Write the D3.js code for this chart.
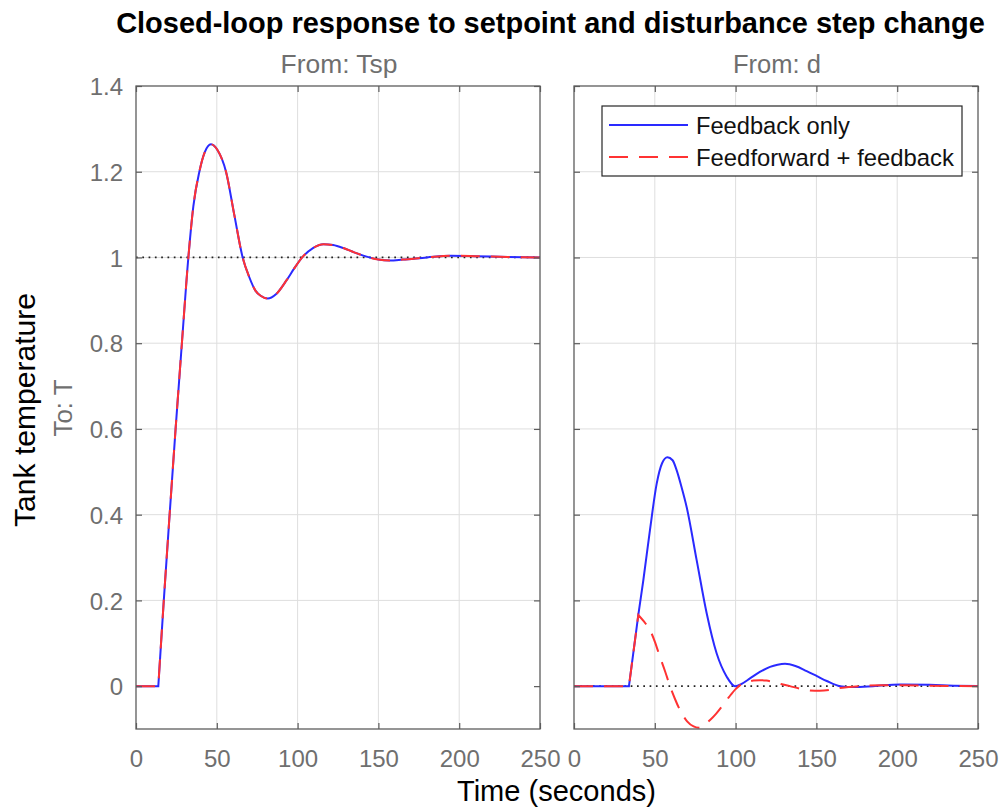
<!DOCTYPE html>
<html>
<head>
<meta charset="utf-8">
<script src="https://cdn.jsdelivr.net/npm/d3@7"></script>
<style>
  html, body { margin: 0; padding: 0; background: #fff; }
  svg { display: block; }
  text { font-family: "Liberation Sans", Arial, Helvetica, sans-serif; }
</style>
</head>
<body>
<svg id="chart" width="1003" height="811"></svg>
<script>
// ---------------- data ----------------
const panelTitles = ["From: Tsp", "From: d"];
const seriesNames = ["Feedback only", "Feedforward + feedback"];

const xTicks = [0, 50, 100, 150, 200, 250];
const xTickLabels = ["0", "50", "100", "150", "200", "250"];
const yTicks = [0, 0.2, 0.4, 0.6, 0.8, 1, 1.2, 1.4];
const yTickLabels = ["0", "0.2", "0.4", "0.6", "0.8", "1", "1.2", "1.4"];

// setpoint step response (identical for both designs)
const spTime = [0, 13.8, 17.2, 20.8, 24.5, 28.4, 32.4, 35.5, 39.2, 42.5, 46.4, 50.5, 55.7, 60.8, 66,
  70, 74, 77.4, 81.5, 86.6, 93.2, 98, 103.5, 109.5, 116, 122, 128.3, 135, 142.7, 150, 157, 165,
  180, 195, 210, 230, 250];
const spValue = [0, 0, 0.2, 0.4, 0.6, 0.8, 1.0, 1.12, 1.2, 1.245, 1.264, 1.25, 1.2, 1.1, 1.0,
  0.955, 0.922, 0.91, 0.904, 0.914, 0.947, 0.975, 1.003, 1.022, 1.031, 1.029, 1.022, 1.012, 1.002,
  0.995, 0.993, 0.995, 1.0, 1.004, 1.003, 1.001, 1.0];
const spKinks = [13.8];
const spFinal = 1;

// disturbance response, feedback only
const fbTime = [0, 34, 39.8, 42.9, 47, 51.2, 54.5, 57.8, 61, 63.5, 66.5, 69.7, 75.9, 82.1, 88.3,
  94.5, 99.6, 104, 108.9, 115, 121.3, 126, 130.6, 137, 144, 150, 156.4, 164.6, 173, 185, 201.7,
  220, 235, 250];
const fbValue = [0, 0, 0.166, 0.247, 0.364, 0.473, 0.52, 0.534, 0.527, 0.504, 0.465, 0.418, 0.294,
  0.17, 0.076, 0.022, 0, 0.006, 0.018, 0.033, 0.045, 0.05, 0.052, 0.047, 0.035, 0.024, 0.012, 0,
  -0.002, 0.0, 0.004, 0.003, 0.001, 0];
const fbKinks = [34];

// disturbance response, feedforward + feedback
const ffTime = [0, 34, 39.8, 43, 47, 50, 53.2, 56.5, 59.4, 62.5, 65.6, 70, 74, 77, 80, 84.2, 88,
  92, 96, 100, 103, 107, 111, 115, 119, 123.3, 128, 133.6, 140, 146, 152, 158, 163, 170, 177, 190,
  205, 220, 250];
const ffValue = [0, 0, 0.166, 0.152, 0.131, 0.104, 0.068, 0.033, 0.0, -0.03, -0.056, -0.082,
  -0.094, -0.097, -0.092, -0.079, -0.064, -0.045, -0.025, -0.007, 0.003, 0.009, 0.013, 0.014,
  0.013, 0.01, 0.005, 0.0, -0.006, -0.01, -0.011, -0.009, -0.005, -0.002, 0.0, 0.002, 0.002,
  0.001, 0];
const ffKinks = [34, 39.8];
const dFinal = 0;

// ---------------- layout ----------------
const svg = d3.select("#chart");
const yTop = 86, yBottom = 729;
const panels = [
  { x0: 136, x1: 540 },
  { x0: 574, x1: 978 }
];
const y = d3.scaleLinear().domain([-0.1, 1.4]).range([yBottom, yTop]);
const blue = "#2a2aff", red = "#ff3232";
const gray = "#6f6f6f", boxColor = "#5c5c5c";
const dash = "19,11";
const lw = 2;

function fit(sel, width) {
  const node = sel.node();
  const fs = parseFloat(sel.attr("font-size"));
  const w = node.getComputedTextLength();
  if (w > 0) sel.attr("font-size", (fs * width / w).toFixed(2));
  return sel;
}

function kinkedPath(ts, vs, kinks, sx) {
  const pts = ts.map((t, i) => [sx(t), y(vs[i])]);
  const pieces = [];
  let cur = [];
  ts.forEach((t, i) => {
    cur.push(pts[i]);
    if (kinks.includes(t)) { pieces.push(cur); cur = [pts[i]]; }
  });
  if (cur.length > 1) pieces.push(cur);
  const line = d3.line().curve(d3.curveMonotoneX);
  let d = "";
  pieces.forEach((p, k) => {
    let s = line(p);
    if (k > 0) s = "L" + s.slice(1);
    d += s;
  });
  return d;
}

const defs = svg.append("defs");

panels.forEach((p, pi) => {
  const x = d3.scaleLinear().domain([0, 250]).range([p.x0, p.x1]);
  const g = svg.append("g");

  defs.append("clipPath").attr("id", "clip" + pi)
    .append("rect").attr("x", p.x0).attr("y", yTop).attr("width", p.x1 - p.x0).attr("height", yBottom - yTop);

  // grid
  g.append("g").selectAll("line").data(xTicks.slice(1, -1)).join("line")
    .attr("x1", d => x(d)).attr("x2", d => x(d)).attr("y1", yTop).attr("y2", yBottom)
    .attr("stroke", "#dedede").attr("stroke-width", 1);
  g.append("g").selectAll("line").data(yTicks.slice(1, -1)).join("line")
    .attr("x1", p.x0).attr("x2", p.x1).attr("y1", d => y(d)).attr("y2", d => y(d))
    .attr("stroke", "#dedede").attr("stroke-width", 1);

  const plot = g.append("g").attr("clip-path", `url(#clip${pi})`);
  // steady-state dotted line
  const fin = pi === 0 ? spFinal : dFinal;
  plot.append("line").attr("x1", p.x0).attr("x2", p.x1).attr("y1", y(fin)).attr("y2", y(fin))
    .attr("stroke", "#222").attr("stroke-width", 1.7).attr("stroke-dasharray", "1.7,4.6");

  if (pi === 0) {
    plot.append("path").attr("d", kinkedPath(spTime, spValue, spKinks, x))
      .attr("fill", "none").attr("stroke", blue).attr("stroke-width", lw);
    plot.append("path").attr("d", kinkedPath(spTime, spValue, spKinks, x))
      .attr("fill", "none").attr("stroke", red).attr("stroke-width", lw).attr("stroke-dasharray", dash);
  } else {
    plot.append("path").attr("d", kinkedPath(fbTime, fbValue, fbKinks, x))
      .attr("fill", "none").attr("stroke", blue).attr("stroke-width", lw);
    plot.append("path").attr("d", kinkedPath(ffTime, ffValue, ffKinks, x))
      .attr("fill", "none").attr("stroke", red).attr("stroke-width", lw).attr("stroke-dasharray", dash);
  }

  // axes with inward ticks
  const tl = 6;
  const axB = d3.axisBottom(x).tickValues(xTicks).tickSize(-tl).tickFormat((d, i) => xTickLabels[i]);
  const axT = d3.axisTop(x).tickValues(xTicks).tickSize(-tl).tickFormat("");
  const axL = d3.axisLeft(y).tickValues(yTicks).tickSize(-tl).tickFormat((d, i) => pi === 0 ? yTickLabels[i] : "");
  const axR = d3.axisRight(y).tickValues(yTicks).tickSize(-tl).tickFormat("");
  const gb = g.append("g").attr("transform", `translate(0,${yBottom})`).call(axB);
  const gt = g.append("g").attr("transform", `translate(0,${yTop})`).call(axT);
  const gl = g.append("g").attr("transform", `translate(${p.x0},0)`).call(axL);
  const gr = g.append("g").attr("transform", `translate(${p.x1},0)`).call(axR);
  [gb, gt, gl, gr].forEach(a => {
    a.select(".domain").remove();
    a.selectAll(".tick line").attr("stroke", boxColor).attr("stroke-width", 1.2);
    a.selectAll(".tick text").attr("fill", gray).attr("font-size", 24)
      .attr("font-family", "'Liberation Sans', Arial, sans-serif");
  });
  gb.selectAll(".tick text").attr("dy", null).attr("y", 767 - yBottom);
  gl.selectAll(".tick text").attr("dy", "0.36em").attr("x", -13);

  // box
  g.append("rect").attr("x", p.x0).attr("y", yTop).attr("width", p.x1 - p.x0).attr("height", yBottom - yTop)
    .attr("fill", "none").attr("stroke", boxColor).attr("stroke-width", 1.3);

  // panel title
  const pt = svg.append("text").attr("x", (p.x0 + p.x1) / 2 + 1).attr("y", 73)
    .attr("text-anchor", "middle").attr("fill", gray).attr("font-size", 25).text(panelTitles[pi]);
  fit(pt, pi === 0 ? 117 : 88);
});

// legend
const lg = svg.append("g");
lg.append("rect").attr("x", 602).attr("y", 106).attr("width", 360).attr("height", 70)
  .attr("fill", "#fff").attr("stroke", "#262626").attr("stroke-width", 1.2);
[[blue, null, 125, 134, 154], [red, dash, 157, 166, 258]].forEach((s, i) => {
  lg.append("line").attr("x1", 609).attr("x2", 688).attr("y1", s[2]).attr("y2", s[2])
    .attr("stroke", s[0]).attr("stroke-width", lw).attr("stroke-dasharray", s[1]);
  const t = lg.append("text").attr("x", 696).attr("y", s[3]).attr("font-size", 24)
    .attr("fill", "#111").text(seriesNames[i]);
  fit(t, s[4]);
});

// titles and axis labels
const title = svg.append("text").attr("x", 550.5).attr("y", 33).attr("text-anchor", "middle")
  .attr("font-weight", "bold").attr("font-size", 24).attr("fill", "#000")
  .text("Closed-loop response to setpoint and disturbance step change");
fit(title, 869);

const xl = svg.append("text").attr("x", 556.5).attr("y", 801).attr("text-anchor", "middle")
  .attr("font-size", 28).attr("fill", "#000").text("Time (seconds)");
fit(xl, 199);

const yl = svg.append("text").attr("transform", "translate(35,410) rotate(-90)")
  .attr("text-anchor", "middle").attr("font-size", 28).attr("fill", "#000").text("Tank temperature");
fit(yl, 234);

const yl2 = svg.append("text").attr("transform", "translate(72,408) rotate(-90)")
  .attr("text-anchor", "middle").attr("font-size", 24).attr("fill", gray).text("To: T");
fit(yl2, 57);
</script>
</body>
</html>
